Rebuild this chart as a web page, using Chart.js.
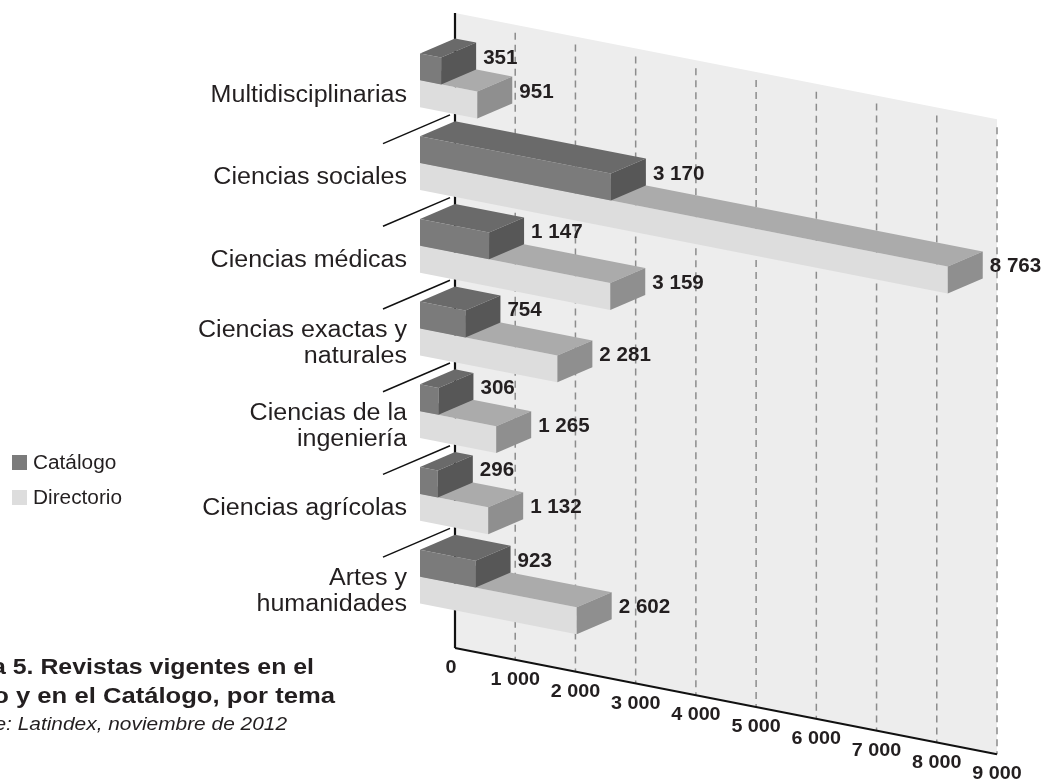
<!DOCTYPE html>
<html>
<head>
<meta charset="utf-8">
<script src="https://cdn.jsdelivr.net/npm/chart.js@4"></script>
<style>
  body { margin: 0; background: #fff; }
  canvas { display: block; }
</style>
</head>
<body>
<canvas id="grafica" width="1042" height="783"></canvas>
<script>
const temas = [["Multidisciplinarias"], ["Ciencias sociales"], ["Ciencias médicas"], ["Ciencias exactas y", "naturales"], ["Ciencias de la", "ingeniería"], ["Ciencias agrícolas"], ["Artes y", "humanidades"]];
const catalogo = [351, 3170, 1147, 754, 306, 296, 923];
const directorio = [951, 8763, 3159, 2281, 1265, 1132, 2602];
const marcas = [0, 1000, 2000, 3000, 4000, 5000, 6000, 7000, 8000, 9000];
const series = ["Catálogo", "Directorio"];
const titulo = ["Gráfica 5. Revistas vigentes en el", "Directorio y en el Catálogo, por tema"];
const fuente = "Fuente: Latindex, noviembre de 2012";

const pendiente = 0.196;           // the value axis runs downhill
const fondo = { x: 35, y: -15 };   // depth of the boxes
const colores = [
  { frente: "#7b7b7b", arriba: "#6a6a6a", lado: "#575757" },
  { frente: "#dddddd", arriba: "#ababab", lado: "#8f8f8f" }
];
const tinta = "#231f20";

function miles(n) {
  return String(n).replace(/\B(?=(\d{3})+(?!\d))/g, " ");
}

function texto(ctx, s, x, y, font, align, ancho) {
  ctx.save();
  ctx.font = font;
  ctx.fillStyle = tinta;
  ctx.textAlign = align;
  ctx.textBaseline = "middle";
  ctx.translate(x, y);
  ctx.scale(ancho || 1, 1);
  ctx.fillText(s, 0, 0);
  ctx.restore();
}

function poligono(ctx, pts, color) {
  ctx.beginPath();
  ctx.moveTo(pts[0][0], pts[0][1]);
  for (let i = 1; i < pts.length; i++) ctx.lineTo(pts[i][0], pts[i][1]);
  ctx.closePath();
  ctx.fillStyle = color;
  ctx.fill();
}

function linea(ctx, p, q) {
  ctx.beginPath();
  ctx.moveTo(p[0], p[1]);
  ctx.lineTo(q[0], q[1]);
  ctx.stroke();
}

function geometria(chart) {
  const x0 = chart.scales.x.getPixelForValue(0);
  const sk = (px, py) => [px, py + (px - x0) * pendiente];
  const atras = (p) => [p[0] + fondo.x, p[1] + fondo.y];
  return { x0, sk, atras };
}

const cajas3d = {
  id: "cajas3d",
  beforeDatasetsDraw(chart) {
    const ctx = chart.ctx, xs = chart.scales.x, ys = chart.scales.y, area = chart.chartArea;
    const { x0, sk, atras } = geometria(chart);
    const techo = area.top - 11, piso = area.bottom + 45;
    const xMax = xs.getPixelForValue(marcas[marcas.length - 1]);

    // back wall
    poligono(ctx, [atras(sk(x0, techo)), atras(sk(xMax, techo)), atras(sk(xMax, piso)), atras(sk(x0, piso))], "#ededed");

    // dashed grid
    ctx.save();
    ctx.strokeStyle = "#8c8c8c";
    ctx.lineWidth = 1.5;
    ctx.setLineDash([7, 5]);
    marcas.forEach(v => {
      if (v === 0) return;
      const px = xs.getPixelForValue(v);
      linea(ctx, atras(sk(px, techo + 8)), atras(sk(px, piso)));
    });
    ctx.restore();

    // axes
    ctx.save();
    ctx.strokeStyle = "#111";
    ctx.lineWidth = 2.2;
    linea(ctx, atras(sk(x0, techo)), atras(sk(x0, piso)));
    linea(ctx, atras(sk(x0, piso)), atras(sk(xMax, piso)));
    ctx.restore();

    // tick labels
    marcas.forEach(v => {
      const p = atras(sk(xs.getPixelForValue(v), piso));
      texto(ctx, miles(v), p[0] - (v === 0 ? 4 : 0), p[1] + 20, "bold 19px 'Liberation Sans', Arial, sans-serif", "center", 1.04);
    });

    // separators between topics
    ctx.save();
    ctx.strokeStyle = "#111";
    ctx.lineWidth = 1.5;
    for (let i = 0; i < temas.length - 1; i++) {
      const yb = (ys.getPixelForValue(i) + ys.getPixelForValue(i + 1)) / 2 + 6;
      const t1 = -37 / fondo.x, t2 = 30 / fondo.x;
      linea(ctx, [x0 + t1 * fondo.x, yb + t1 * fondo.y], [x0 + t2 * fondo.x, yb + t2 * fondo.y]);
    }
    ctx.restore();

    // topic labels
    temas.forEach((lineas, i) => {
      const yc = ys.getPixelForValue(i) + 15;
      lineas.forEach((s, k) => {
        const y = yc + (k - (lineas.length - 1) / 2) * 26;
        texto(ctx, s, x0 - 13, y, "23px 'Liberation Sans', Arial, sans-serif", "right", 1.09);
      });
    });

    // legend
    series.forEach((s, k) => {
      const y = 462 + k * 35;
      ctx.fillStyle = colores[k].frente;
      ctx.fillRect(12, y - 7, 15, 15);
      texto(ctx, s, 33, y + 1, "20px 'Liberation Sans', Arial, sans-serif", "left", 1.04);
    });

    // title and source
    texto(ctx, titulo[0], 314, 668, "bold 22px 'Liberation Sans', Arial, sans-serif", "right", 1.13);
    texto(ctx, titulo[1], 335, 697, "bold 22px 'Liberation Sans', Arial, sans-serif", "right", 1.165);
    texto(ctx, fuente, 287, 725, "italic 18px 'Liberation Sans', Arial, sans-serif", "right", 1.16);
  },
  afterDatasetsDraw(chart) {
    const ctx = chart.ctx;
    const { sk, atras } = geometria(chart);
    const metas = [chart.getDatasetMeta(0), chart.getDatasetMeta(1)];
    const etiquetas = [];

    const caja = (el, c, valor) => {
      const { x, y, base, height } = el.getProps(["x", "y", "base", "height"], true);
      const arriba = y - height / 2, abajo = y + height / 2;
      const f1 = sk(base, arriba), f2 = sk(x, arriba), f3 = sk(x, abajo), f4 = sk(base, abajo);
      const b1 = atras(f1), b2 = atras(f2), b3 = atras(f3);
      poligono(ctx, [f1, f2, f3, f4], c.frente);
      poligono(ctx, [f1, b1, b2, f2], c.arriba);
      poligono(ctx, [f2, b2, b3, f3], c.lado);
      etiquetas.push([miles(valor), b2[0] + 7, (b2[1] + b3[1]) / 2 + 2]);
    };

    // lower topics first so the upper boxes overlap them
    for (let i = temas.length - 1; i >= 0; i--) {
      caja(metas[1].data[i], colores[1], directorio[i]);
      caja(metas[0].data[i], colores[0], catalogo[i]);
    }
    etiquetas.forEach(e => texto(ctx, e[0], e[1], e[2], "bold 20px 'Liberation Sans', Arial, sans-serif", "left", 1.03));
  }
};

new Chart(document.getElementById("grafica"), {
  type: "bar",
  data: {
    labels: temas,
    datasets: [
      { label: series[0], data: catalogo, backgroundColor: "rgba(0,0,0,0)", borderWidth: 0 },
      { label: series[1], data: directorio, backgroundColor: "rgba(0,0,0,0)", borderWidth: 0 }
    ]
  },
  options: {
    indexAxis: "y",
    responsive: false,
    animation: false,
    devicePixelRatio: 1,
    events: [],
    categoryPercentage: 0.65,
    barPercentage: 1,
    layout: { padding: { left: 420, right: 80, top: 39, bottom: 165 } },
    scales: {
      x: { type: "linear", min: 0, max: 9000, display: false },
      y: { type: "category", display: false }
    },
    plugins: { legend: { display: false }, tooltip: { enabled: false } }
  },
  plugins: [cajas3d]
});
</script>
</body>
</html>
